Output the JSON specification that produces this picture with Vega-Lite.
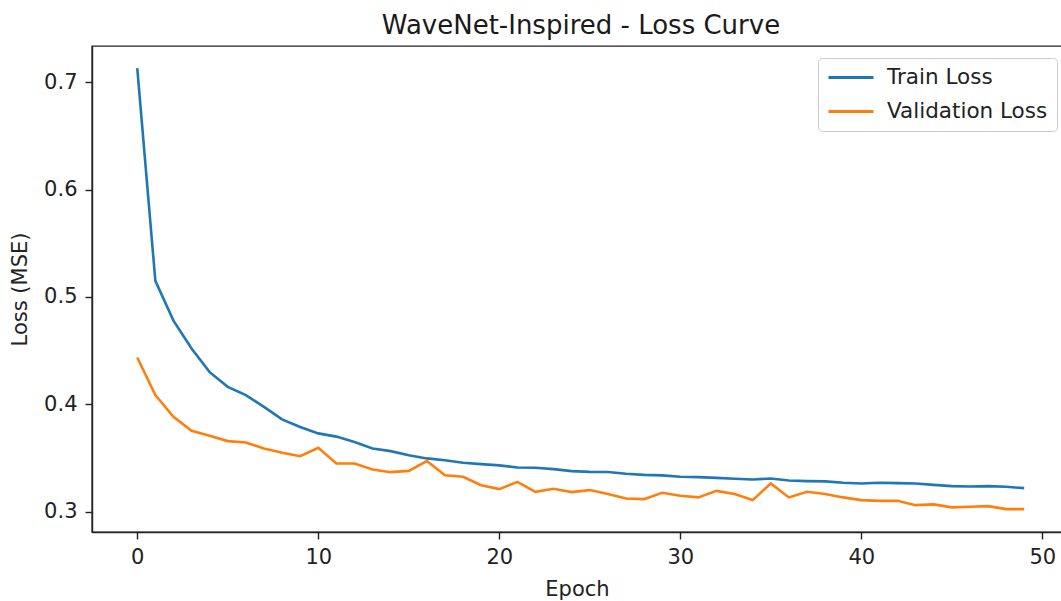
{
  "$schema": "https://vega.github.io/schema/vega-lite/v6.json",
  "width": 970,
  "height": 486,
  "autosize": {"type": "none"},
  "padding": {"left": 92, "top": 46, "right": 0, "bottom": 69},
  "background": "white",
  "title": {
    "text": "WaveNet-Inspired - Loss Curve",
    "font": "DejaVu Sans",
    "fontSize": 26,
    "fontWeight": "normal",
    "color": "#1a1a1a",
    "anchor": "middle",
    "offset": 7,
    "dx": 4
  },
  "config": {
    "view": {"stroke": "#222", "strokeWidth": 1.4},
    "axis": {
      "grid": false,
      "domainColor": "#222",
      "domainWidth": 1.4,
      "tickColor": "#222",
      "tickWidth": 1.4,
      "tickSize": 7,
      "labelFont": "DejaVu Sans",
      "labelFontSize": 21,
      "labelColor": "#222",
      "titleFont": "DejaVu Sans",
      "titleFontSize": 21,
      "titleFontWeight": "normal",
      "titleColor": "#222"
    },
    "legend": {
      "labelFont": "DejaVu Sans",
      "labelFontSize": 21.5,
      "labelColor": "#222",
      "labelLimit": 400
    }
  },
  "data": {
    "values": [
      {"epoch": 0, "series": "Train Loss", "loss": 0.713},
      {"epoch": 1, "series": "Train Loss", "loss": 0.515},
      {"epoch": 2, "series": "Train Loss", "loss": 0.478},
      {"epoch": 3, "series": "Train Loss", "loss": 0.452},
      {"epoch": 4, "series": "Train Loss", "loss": 0.430},
      {"epoch": 5, "series": "Train Loss", "loss": 0.4163},
      {"epoch": 6, "series": "Train Loss", "loss": 0.4086},
      {"epoch": 7, "series": "Train Loss", "loss": 0.3977},
      {"epoch": 8, "series": "Train Loss", "loss": 0.386},
      {"epoch": 9, "series": "Train Loss", "loss": 0.379},
      {"epoch": 10, "series": "Train Loss", "loss": 0.373},
      {"epoch": 11, "series": "Train Loss", "loss": 0.370},
      {"epoch": 12, "series": "Train Loss", "loss": 0.365},
      {"epoch": 13, "series": "Train Loss", "loss": 0.359},
      {"epoch": 14, "series": "Train Loss", "loss": 0.3565},
      {"epoch": 15, "series": "Train Loss", "loss": 0.3527},
      {"epoch": 16, "series": "Train Loss", "loss": 0.3497},
      {"epoch": 17, "series": "Train Loss", "loss": 0.348},
      {"epoch": 18, "series": "Train Loss", "loss": 0.3456},
      {"epoch": 19, "series": "Train Loss", "loss": 0.3444},
      {"epoch": 20, "series": "Train Loss", "loss": 0.3432},
      {"epoch": 21, "series": "Train Loss", "loss": 0.3413},
      {"epoch": 22, "series": "Train Loss", "loss": 0.341},
      {"epoch": 23, "series": "Train Loss", "loss": 0.3397},
      {"epoch": 24, "series": "Train Loss", "loss": 0.3379},
      {"epoch": 25, "series": "Train Loss", "loss": 0.3372},
      {"epoch": 26, "series": "Train Loss", "loss": 0.337},
      {"epoch": 27, "series": "Train Loss", "loss": 0.3354},
      {"epoch": 28, "series": "Train Loss", "loss": 0.3344},
      {"epoch": 29, "series": "Train Loss", "loss": 0.3339},
      {"epoch": 30, "series": "Train Loss", "loss": 0.3326},
      {"epoch": 31, "series": "Train Loss", "loss": 0.3323},
      {"epoch": 32, "series": "Train Loss", "loss": 0.3316},
      {"epoch": 33, "series": "Train Loss", "loss": 0.3307},
      {"epoch": 34, "series": "Train Loss", "loss": 0.3301},
      {"epoch": 35, "series": "Train Loss", "loss": 0.331},
      {"epoch": 36, "series": "Train Loss", "loss": 0.3292},
      {"epoch": 37, "series": "Train Loss", "loss": 0.3286},
      {"epoch": 38, "series": "Train Loss", "loss": 0.3283},
      {"epoch": 39, "series": "Train Loss", "loss": 0.327},
      {"epoch": 40, "series": "Train Loss", "loss": 0.3264},
      {"epoch": 41, "series": "Train Loss", "loss": 0.327},
      {"epoch": 42, "series": "Train Loss", "loss": 0.3267},
      {"epoch": 43, "series": "Train Loss", "loss": 0.3264},
      {"epoch": 44, "series": "Train Loss", "loss": 0.3251},
      {"epoch": 45, "series": "Train Loss", "loss": 0.3239},
      {"epoch": 46, "series": "Train Loss", "loss": 0.3236},
      {"epoch": 47, "series": "Train Loss", "loss": 0.3239},
      {"epoch": 48, "series": "Train Loss", "loss": 0.3233},
      {"epoch": 49, "series": "Train Loss", "loss": 0.322},
      {"epoch": 0, "series": "Validation Loss", "loss": 0.4436},
      {"epoch": 1, "series": "Validation Loss", "loss": 0.4086},
      {"epoch": 2, "series": "Validation Loss", "loss": 0.3884},
      {"epoch": 3, "series": "Validation Loss", "loss": 0.3754},
      {"epoch": 4, "series": "Validation Loss", "loss": 0.3707},
      {"epoch": 5, "series": "Validation Loss", "loss": 0.3658},
      {"epoch": 6, "series": "Validation Loss", "loss": 0.3645},
      {"epoch": 7, "series": "Validation Loss", "loss": 0.359},
      {"epoch": 8, "series": "Validation Loss", "loss": 0.3549},
      {"epoch": 9, "series": "Validation Loss", "loss": 0.3518},
      {"epoch": 10, "series": "Validation Loss", "loss": 0.3596},
      {"epoch": 11, "series": "Validation Loss", "loss": 0.345},
      {"epoch": 12, "series": "Validation Loss", "loss": 0.345},
      {"epoch": 13, "series": "Validation Loss", "loss": 0.3394},
      {"epoch": 14, "series": "Validation Loss", "loss": 0.3369},
      {"epoch": 15, "series": "Validation Loss", "loss": 0.3381},
      {"epoch": 16, "series": "Validation Loss", "loss": 0.3472},
      {"epoch": 17, "series": "Validation Loss", "loss": 0.3341},
      {"epoch": 18, "series": "Validation Loss", "loss": 0.3326},
      {"epoch": 19, "series": "Validation Loss", "loss": 0.3248},
      {"epoch": 20, "series": "Validation Loss", "loss": 0.3211},
      {"epoch": 21, "series": "Validation Loss", "loss": 0.3279},
      {"epoch": 22, "series": "Validation Loss", "loss": 0.3186},
      {"epoch": 23, "series": "Validation Loss", "loss": 0.3214},
      {"epoch": 24, "series": "Validation Loss", "loss": 0.3183},
      {"epoch": 25, "series": "Validation Loss", "loss": 0.3202},
      {"epoch": 26, "series": "Validation Loss", "loss": 0.3165},
      {"epoch": 27, "series": "Validation Loss", "loss": 0.3124},
      {"epoch": 28, "series": "Validation Loss", "loss": 0.3118},
      {"epoch": 29, "series": "Validation Loss", "loss": 0.3177},
      {"epoch": 30, "series": "Validation Loss", "loss": 0.3149},
      {"epoch": 31, "series": "Validation Loss", "loss": 0.3134},
      {"epoch": 32, "series": "Validation Loss", "loss": 0.3195},
      {"epoch": 33, "series": "Validation Loss", "loss": 0.3165},
      {"epoch": 34, "series": "Validation Loss", "loss": 0.3109},
      {"epoch": 35, "series": "Validation Loss", "loss": 0.3264},
      {"epoch": 36, "series": "Validation Loss", "loss": 0.3134},
      {"epoch": 37, "series": "Validation Loss", "loss": 0.3186},
      {"epoch": 38, "series": "Validation Loss", "loss": 0.3165},
      {"epoch": 39, "series": "Validation Loss", "loss": 0.3134},
      {"epoch": 40, "series": "Validation Loss", "loss": 0.3109},
      {"epoch": 41, "series": "Validation Loss", "loss": 0.3102},
      {"epoch": 42, "series": "Validation Loss", "loss": 0.3102},
      {"epoch": 43, "series": "Validation Loss", "loss": 0.3062},
      {"epoch": 44, "series": "Validation Loss", "loss": 0.3069},
      {"epoch": 45, "series": "Validation Loss", "loss": 0.3041},
      {"epoch": 46, "series": "Validation Loss", "loss": 0.3047},
      {"epoch": 47, "series": "Validation Loss", "loss": 0.3053},
      {"epoch": 48, "series": "Validation Loss", "loss": 0.3025},
      {"epoch": 49, "series": "Validation Loss", "loss": 0.3025}
    ]
  },
  "mark": {"type": "line", "strokeWidth": 2.6},
  "encoding": {
    "x": {
      "field": "epoch",
      "type": "quantitative",
      "title": "Epoch",
      "scale": {"domain": [-2.5, 51.09], "nice": false, "zero": false},
      "axis": {"values": [0, 10, 20, 30, 40, 50], "format": "d", "labelPadding": 7, "titlePadding": 11}
    },
    "y": {
      "field": "loss",
      "type": "quantitative",
      "title": "Loss (MSE)",
      "scale": {"domain": [0.2812, 0.7336], "nice": false, "zero": false},
      "axis": {"values": [0.3, 0.4, 0.5, 0.6, 0.7], "format": ".1f", "labelPadding": 8, "titlePadding": 13}
    },
    "color": {
      "field": "series",
      "type": "nominal",
      "title": null,
      "scale": {"domain": ["Train Loss", "Validation Loss"], "range": ["#1f77b4", "#ff7f0e"]},
      "legend": {
        "orient": "none",
        "legendX": 726,
        "legendY": 12,
        "symbolType": "stroke",
        "symbolSize": 2025,
        "symbolStrokeWidth": 3,
        "clipHeight": 21,
        "labelOffset": 12,
        "labelLimit": 400,
        "rowPadding": 12,
        "padding": 9,
        "fillColor": "rgba(255,255,255,0.8)",
        "strokeColor": "#cccccc",
        "cornerRadius": 4
      }
    }
  }
}
